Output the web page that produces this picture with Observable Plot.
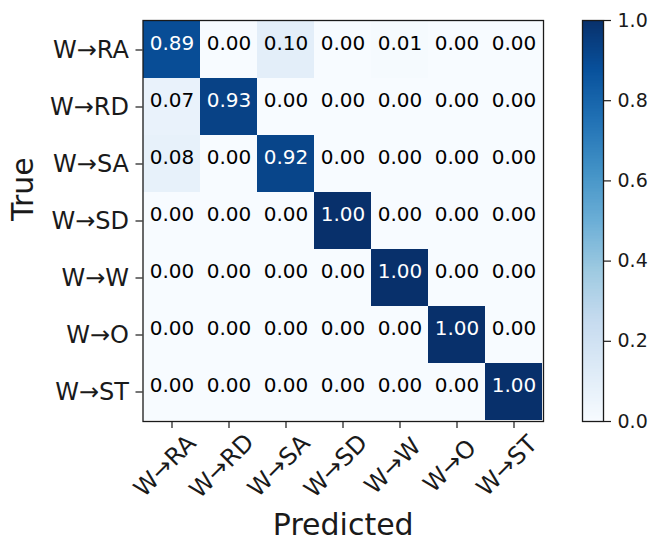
<!DOCTYPE html>
<html>
<head>
<meta charset="utf-8">
<script src="https://cdn.jsdelivr.net/npm/d3@7"></script>
<script src="https://cdn.jsdelivr.net/npm/@observablehq/plot@0.6"></script>
<style>
  html, body { margin: 0; padding: 0; background: #fff; }
  #fig { position: relative; width: 649px; height: 541px; font-family: "DejaVu Sans"; }
  #fig svg { position: absolute; left: 0; top: 0; }
</style>
</head>
<body>
<div id="fig"></div>
<script>
// Class labels (rows = true class, columns = predicted class)
const classes = ["W→RA", "W→RD", "W→SA", "W→SD", "W→W", "W→O", "W→ST"];

// Normalized confusion matrix, one row per true class
const rowRA = [0.89, 0.00, 0.10, 0.00, 0.01, 0.00, 0.00];
const rowRD = [0.07, 0.93, 0.00, 0.00, 0.00, 0.00, 0.00];
const rowSA = [0.08, 0.00, 0.92, 0.00, 0.00, 0.00, 0.00];
const rowSD = [0.00, 0.00, 0.00, 1.00, 0.00, 0.00, 0.00];
const rowW  = [0.00, 0.00, 0.00, 0.00, 1.00, 0.00, 0.00];
const rowO  = [0.00, 0.00, 0.00, 0.00, 0.00, 1.00, 0.00];
const rowST = [0.00, 0.00, 0.00, 0.00, 0.00, 0.00, 1.00];
const matrixRows = [rowRA, rowRD, rowSA, rowSD, rowW, rowO, rowST];

// Colorbar tick values
const colorbarTicks = [0.0, 0.2, 0.4, 0.6, 0.8, 1.0];

// ColorBrewer "Blues" stops (sequential colormap)
const bluesStops = ["#f7fbff", "#deebf7", "#c6dbef", "#9ecae1", "#6baed6",
                    "#4292c6", "#2171b5", "#08519c", "#08306b"];

const cells = [];
matrixRows.forEach((row, i) => row.forEach((v, j) => {
  cells.push({truth: classes[i], pred: classes[j], value: v});
}));

const W = 649, H = 541;
const fmt = d3.format(".2f");
const font = "DejaVu Sans";
const ink = "#1a1a1a";

const color = {
  type: "linear",
  domain: bluesStops.map((_, i) => i / (bluesStops.length - 1)),
  range: bluesStops,
  interpolate: "rgb"
};

const matrix = Plot.plot({
  width: W, height: H,
  marginLeft: 142.5, marginRight: W - 543, marginTop: 20, marginBottom: H - 421,
  style: {fontFamily: font, background: "transparent", overflow: "visible", color: ink},
  x: {domain: classes, padding: 0},
  y: {domain: classes, padding: 0},
  color,
  marks: [
    Plot.cell(cells, {x: "pred", y: "truth", fill: "value", inset: 0, shapeRendering: "crispEdges"}),
    Plot.text(cells, {filter: d => d.value > 0.5, x: "pred", y: "truth", text: d => fmt(d.value),
      fill: "white", fontSize: 20, lineAnchor: "bottom"}),
    Plot.text(cells, {filter: d => d.value <= 0.5, x: "pred", y: "truth", text: d => fmt(d.value),
      fill: "black", fontSize: 20, lineAnchor: "bottom"}),
    Plot.frame({stroke: ink, strokeWidth: 1.3}),
    Plot.axisY({tickSize: 7, tickPadding: 7, fontSize: 24, label: null, strokeWidth: 1.2}),
    Plot.axisX({tickSize: 7, tickFormat: () => "", label: null, strokeWidth: 1.2}),
    Plot.text(classes, {x: d => d, text: d => d, frameAnchor: "bottom", dy: 50, dx: -1.5,
      rotate: -45, fontSize: 24, fill: ink}),
    Plot.text(["True"], {text: d => d, frameAnchor: "left", dx: -119.5, rotate: -90,
      fontSize: 30, fill: ink}),
    Plot.text(["Predicted"], {text: d => d, frameAnchor: "bottom", dy: 113, lineAnchor: "bottom",
      fontSize: 30, fill: ink})
  ]
});

// Colorbar: a stack of thin slices filled through the same color scale
const steps = 256;
const ramp = d3.range(steps).map(i => i / steps);
const colorbar = Plot.plot({
  width: W, height: H,
  marginLeft: 582, marginRight: W - 603, marginTop: 20, marginBottom: H - 421,
  style: {fontFamily: font, background: "transparent", overflow: "visible", color: ink},
  x: {domain: [0, 1], axis: null},
  y: {domain: [0, 1]},
  color,
  marks: [
    Plot.rect(ramp, {x1: d => 0, x2: d => 1, y1: d => d, y2: d => Math.min(1, d + 1.5 / steps),
      fill: d => d + 0.5 / steps, shapeRendering: "crispEdges"}),
    Plot.frame({stroke: ink, strokeWidth: 1.3}),
    Plot.axisY(colorbarTicks, {anchor: "right", tickSize: 7, tickPadding: 7, fontSize: 19,
      tickFormat: d3.format(".1f"), label: null, strokeWidth: 1.2})
  ]
});

const fig = document.getElementById("fig");
fig.appendChild(matrix);
fig.appendChild(colorbar);
</script>
</body>
</html>
